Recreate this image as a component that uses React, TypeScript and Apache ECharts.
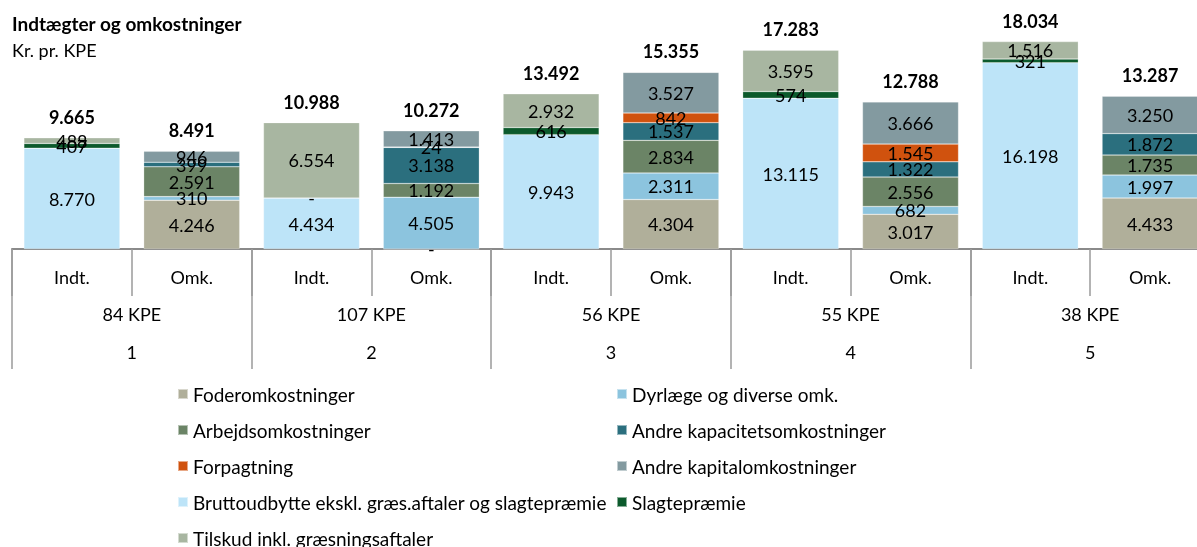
import React, { useEffect, useRef } from "react";
import * as echarts from "echarts";

const categories = ["Indt.", "Omk.", "Indt.", "Omk.", "Indt.", "Omk.", "Indt.", "Omk.", "Indt.", "Omk."];
const groupLabels = ["84 KPE", "107 KPE", "56 KPE", "55 KPE", "38 KPE"];
const groupNumbers = ["1", "2", "3", "4", "5"];

const bruttoudbytte = [8770, null, 4434, null, 9943, null, 13115, null, 16198, null];
const slagtepraemie = [407, null, 0, null, 616, null, 574, null, 321, null];
const tilskud = [488, null, 6554, null, 2932, null, 3595, null, 1516, null];
const foderomk = [null, 4246, null, 0, null, 4304, null, 3017, null, 4433];
const dyrlaege = [null, 310, null, 4505, null, 2311, null, 682, null, 1997];
const arbejdsomk = [null, 2591, null, 1192, null, 2834, null, 2556, null, 1735];
const andreKapacitet = [null, 399, null, 3138, null, 1537, null, 1322, null, 1872];
const forpagtning = [null, null, null, 24, null, 842, null, 1545, null, null];
const andreKapital = [null, 946, null, 1413, null, 3527, null, 3666, null, 3250];
const totals = [9665, 8491, 10988, 10272, 13492, 15355, 17283, 12788, 18034, 13287];

const FONT = "Lato";
const fmt = (v: number) => (v === 0 ? "-" : String(v).replace(/\B(?=(\d{3})+(?!\d))/g, "."));

const stackSeries = [
  { name: "Bruttoudbytte ekskl. græs.aftaler og slagtepræmie", data: bruttoudbytte, color: "#BDE4F8" },
  { name: "Slagtepræmie", data: slagtepraemie, color: "#0C5A2C" },
  { name: "Tilskud inkl. græsningsaftaler", data: tilskud, color: "#A8B6A1" },
  { name: "Foderomkostninger", data: foderomk, color: "#B0AF9A" },
  { name: "Dyrlæge og diverse omk.", data: dyrlaege, color: "#8CC4DE" },
  { name: "Arbejdsomkostninger", data: arbejdsomk, color: "#6B8466" },
  { name: "Andre kapacitetsomkostninger", data: andreKapacitet, color: "#2B6F7E" },
  { name: "Forpagtning", data: forpagtning, color: "#D0520E" },
  { name: "Andre kapitalomkostninger", data: andreKapital, color: "#839AA0" },
];

export default function App() {
  const ref = useRef<HTMLDivElement>(null);
  useEffect(() => {
    if (!ref.current) return;
    const chart = echarts.init(ref.current, null, { renderer: "svg" });
    const series: any[] = stackSeries.map((s) => ({
      type: "bar",
      name: s.name,
      stack: "a",
      data: s.data,
      barWidth: 96,
      barGap: "-100%",
      itemStyle: { color: s.color, borderColor: "rgba(255,255,255,0.5)", borderWidth: 0.5 },
      label: {
        show: true,
        position: "inside",
        color: "#000",
        fontFamily: FONT,
        fontSize: 18,
        formatter: (p: any) => fmt(p.value),
      },
    }));
    series.push({
      type: "bar",
      name: "Total",
      data: totals,
      barWidth: 96,
      barGap: "-100%",
      silent: true,
      z: 1,
      itemStyle: { color: "rgba(0,0,0,0)" },
      label: {
        show: true,
        position: "top",
        distance: 12,
        color: "#000",
        fontFamily: FONT,
        fontWeight: "bold",
        fontSize: 18,
        formatter: (p: any) => fmt(p.value),
      },
    });
    const legendText = { fontFamily: FONT, fontSize: 19, color: "#000", lineHeight: 20 };
    chart.setOption({
      animation: false,
      textStyle: { fontFamily: FONT },
      title: [
        { text: "Indtægter og omkostninger", left: 12, top: 14, padding: 0, textStyle: { fontFamily: FONT, fontSize: 19, fontWeight: "bold", color: "#000" } },
        { text: "Kr. pr. KPE", left: 12, top: 41, padding: 0, textStyle: { fontFamily: FONT, fontSize: 18, fontWeight: "normal", color: "#000" } },
      ],
      legend: [
        {
          orient: "vertical",
          left: 177,
          top: 384,
          height: 260,
          padding: 0,
          itemWidth: 10,
          itemHeight: 10,
          itemGap: 16,
          icon: "rect",
          textStyle: legendText,
          data: ["Foderomkostninger", "Arbejdsomkostninger", "Forpagtning", "Bruttoudbytte ekskl. græs.aftaler og slagtepræmie", "Tilskud inkl. græsningsaftaler"],
        },
        {
          orient: "vertical",
          left: 616,
          top: 384,
          height: 260,
          padding: 0,
          itemWidth: 10,
          itemHeight: 10,
          itemGap: 16,
          icon: "rect",
          textStyle: legendText,
          data: ["Dyrlæge og diverse omk.", "Andre kapacitetsomkostninger", "Andre kapitalomkostninger", "Slagtepræmie"],
        },
      ],
      grid: { left: 12, right: 0, top: 19, height: 230, containLabel: false },
      xAxis: [
        {
          type: "category",
          data: categories,
          position: "bottom",
          axisLine: { show: true, lineStyle: { color: "#8A8A8A", width: 2 } },
          axisTick: { show: true, length: 47, interval: 0, lineStyle: { color: "#9A9A9A", width: 1.5 } },
          axisLabel: { interval: 0, margin: 19, fontFamily: FONT, fontSize: 18, color: "#000" },
        },
        {
          type: "category",
          data: groupLabels,
          position: "bottom",
          axisLine: { show: false },
          axisTick: { show: true, length: 120, interval: 0, lineStyle: { color: "#9A9A9A", width: 1.5 } },
          axisLabel: { interval: 0, margin: 56, fontFamily: FONT, fontSize: 18, color: "#000" },
        },
        {
          type: "category",
          data: groupNumbers,
          position: "bottom",
          axisLine: { show: false },
          axisTick: { show: false },
          axisLabel: { interval: 0, margin: 94, fontFamily: FONT, fontSize: 18, color: "#000" },
        },
      ],
      yAxis: { type: "value", min: 0, max: 20000, show: false, splitLine: { show: false } },
      series,
    });
    return () => chart.dispose();
  }, []);
  return <div ref={ref} style={{ position: "fixed", left: 0, top: 0, width: 1210, height: 547 }} />;
}
